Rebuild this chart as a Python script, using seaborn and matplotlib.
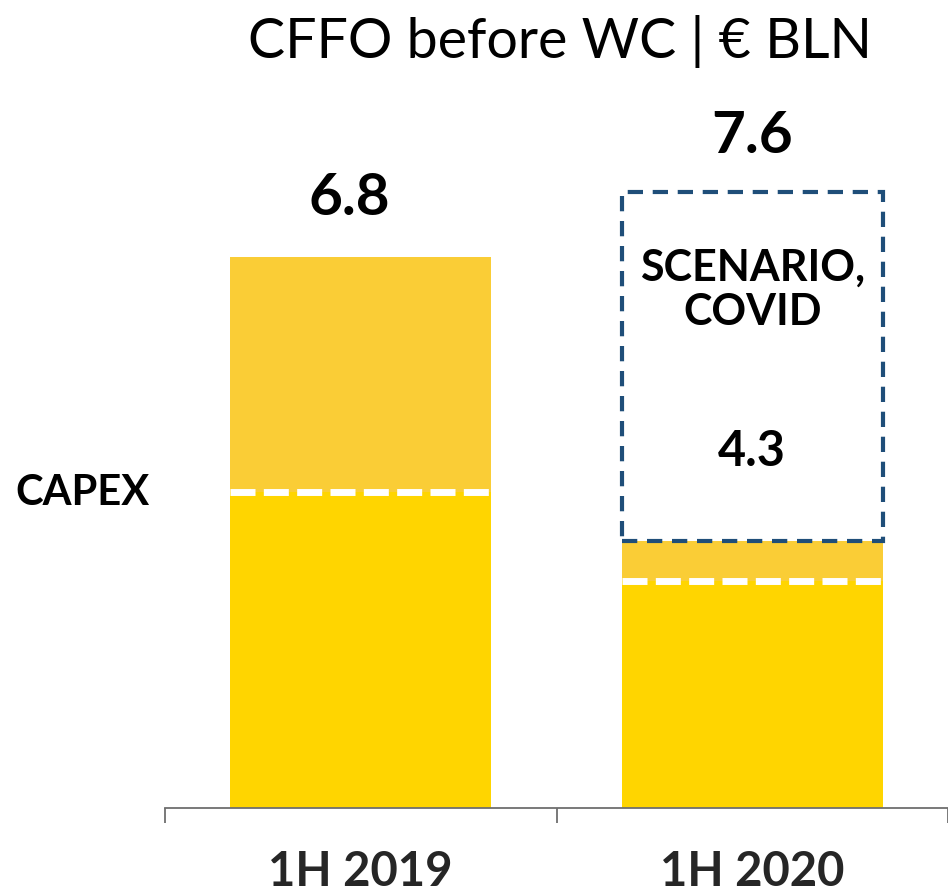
import matplotlib
matplotlib.use("Agg")
import matplotlib.pyplot as plt
import seaborn as sns
import pandas as pd

categories = ["1H 2019", "1H 2020"]
actual_total = [6.8, 3.3]
capex = [3.9, 2.8]
scenario_extra = [None, 4.3]
total_labels = ["6.8", "7.6"]

UPPER = "#FACD36"
LOWER = "#FFD500"
BOX = "#1F4E79"

sns.set_theme(style="white")
plt.rcParams["font.family"] = ["Lato", "DejaVu Sans"]
plt.rcParams["lines.scale_dashes"] = False

fig = plt.figure(figsize=(9.48, 8.96), dpi=100)
ax = fig.add_axes([165/948, 1-808/896, 1-165/948, 808/896])

df = pd.DataFrame({"cat": categories, "total": actual_total, "capex": capex})
W = 261/392
sns.barplot(data=df, x="cat", y="total", color=UPPER, saturation=1, width=W, ax=ax, linewidth=0)
sns.barplot(data=df, x="cat", y="capex", color=LOWER, saturation=1, width=W, ax=ax, linewidth=0)

# white dashed capex lines
for i, c in enumerate(capex):
    ax.plot([i - W/2, i + W/2], [c, c], color="white", lw=5, dashes=(18, 6), zorder=5,
            solid_capstyle="butt", dash_capstyle="butt")

# scenario box
for i, e in enumerate(scenario_extra):
    if e is None:
        continue
    ax.bar(i, e, bottom=actual_total[i], width=W, fill=False, edgecolor=BOX, lw=3,
           linestyle=(0, (11, 7)), zorder=4)
    ax.text(i, actual_total[i] + e*0.72, "SCENARIO,\nCOVID", ha="center", va="center",
            fontsize=31, fontweight="bold", color="black", linespacing=1.15)
    ax.text(i, actual_total[i] + e*0.255, f"{e:.1f}", ha="center", va="center",
            fontsize=35, fontweight="bold", color="black")

tops = [actual_total[0], actual_total[1] + scenario_extra[1]]
for i, (t, lab) in enumerate(zip(tops, total_labels)):
    ax.annotate(lab, (i, t), xytext=(-8 if i == 0 else 0, 42 if i == 0 else 40),
                textcoords="offset points",
                ha="center", va="center", fontsize=42, fontweight="bold", color="black")

ax.set_xlim(-0.5, 1.5)
ax.set_ylim(0, 808/81.03)
ax.set_xlabel("")
ax.set_ylabel("")
ax.set_yticks([])
for s in ["top", "right", "left"]:
    ax.spines[s].set_visible(False)
ax.spines["bottom"].set_color("#6E6E6E")
ax.spines["bottom"].set_linewidth(1.3)
ax.set_xticks([0, 1])
ax.set_xticklabels(categories, fontsize=34, fontweight="bold")
ax.tick_params(axis="x", which="major", length=0, pad=30, bottom=True)
ax.set_xticks([-0.5, 0.5, 1.5], minor=True)
ax.tick_params(axis="x", which="minor", length=11, width=1.3, color="#6E6E6E",
               direction="out", bottom=True)

fig.text(15/948, 1-493/896, "CAPEX", ha="left", va="center", fontsize=30, fontweight="bold", color="black")
fig.text(560/948, 1-41/896, "CFFO before WC | € BLN", ha="center", va="center", fontsize=40, color="black")

fig.savefig("out.png", dpi=100)
